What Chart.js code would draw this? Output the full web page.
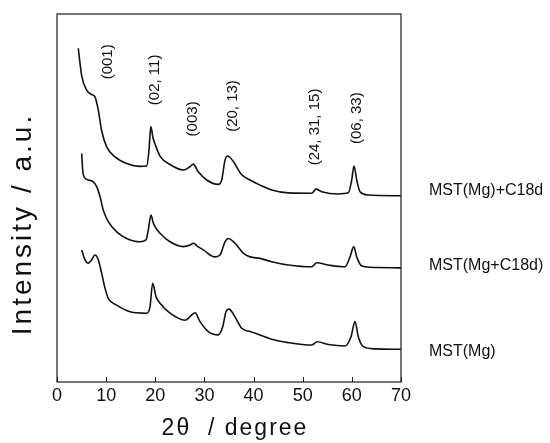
<!DOCTYPE html>
<html><head><meta charset="utf-8">
<script src="https://cdn.jsdelivr.net/npm/chart.js@4.4.1/dist/chart.umd.min.js"></script>
<style>html,body{margin:0;padding:0;background:#fff}</style>
</head><body>
<canvas id="c" width="550" height="443"></canvas>
<script>
// ---- data ----
const seriesNames = ['MST(Mg)+C18d', 'MST(Mg+C18d)', 'MST(Mg)'];

const thetaTop = [4.33, 5.03, 6.04, 7.06, 7.73, 8.40, 9.10, 10.11, 11.80, 14.18, 16.89, 18.25, 18.72, 19.09, 19.54, 19.94, 20.96, 23.00, 25.70, 27.07, 27.74, 28.75, 30.46, 32.82, 33.52, 34.19, 34.74, 35.88, 37.59, 39.28, 41.32, 43.69, 47.07, 51.83, 52.71, 53.87, 57.24, 59.28, 59.97, 60.44, 60.99, 61.66, 63.35, 70];
const intensityTop = [90.7, 83.2, 79.3, 78.1, 77.5, 73.9, 68.2, 63.9, 61.2, 59.4, 58.6, 58.7, 63.0, 69.4, 66.3, 64.7, 61.4, 59.1, 57.6, 58.5, 59.2, 57.1, 54.9, 53.7, 54.9, 60.3, 61.4, 59.9, 56.3, 54.9, 53.5, 52.2, 51.4, 51.3, 52.4, 51.7, 51.1, 51.4, 54.9, 58.7, 54.9, 51.7, 50.8, 50.6];

const thetaMid = [5.03, 5.23, 5.70, 6.37, 7.39, 8.08, 8.75, 9.42, 10.44, 12.15, 14.18, 16.89, 18.11, 18.58, 19.13, 19.54, 19.94, 20.96, 23.00, 25.70, 27.07, 27.74, 28.75, 29.77, 32.15, 33.17, 34.19, 34.86, 36.22, 37.91, 39.28, 41.32, 43.69, 47.07, 51.83, 52.85, 55.21, 58.61, 59.63, 60.38, 60.99, 62.01, 64.71, 70];
const intensityMid = [62.1, 57.6, 55.4, 54.9, 54.4, 53.1, 50.4, 46.7, 43.6, 40.8, 39.0, 38.1, 38.6, 41.3, 45.4, 43.5, 42.2, 40.4, 38.1, 36.8, 37.2, 37.7, 36.7, 35.9, 34.0, 34.5, 38.1, 39.0, 37.7, 35.0, 34.0, 33.6, 32.7, 31.8, 31.3, 32.4, 31.8, 31.3, 34.0, 36.8, 34.0, 31.5, 31.1, 31.0];

const thetaBot = [5.03, 5.70, 6.37, 7.06, 7.73, 8.40, 9.10, 9.77, 10.44, 12.15, 14.86, 18.25, 18.93, 19.47, 20.15, 20.96, 23.00, 26.05, 27.41, 28.08, 29.10, 30.79, 32.82, 33.72, 34.39, 35.00, 36.22, 37.59, 39.28, 41.32, 43.69, 47.07, 51.83, 52.97, 55.21, 58.61, 59.83, 60.64, 61.31, 62.33, 64.71, 70];
const intensityBot = [35.9, 33.2, 32.3, 33.2, 34.5, 33.2, 29.5, 25.5, 22.7, 20.9, 19.1, 18.7, 20.5, 26.8, 23.2, 21.4, 18.7, 16.8, 18.2, 18.8, 16.4, 13.7, 12.8, 15.0, 19.1, 19.8, 17.7, 14.6, 13.7, 12.8, 11.6, 10.7, 10.05, 10.95, 10.2, 9.8, 12.3, 16.4, 12.3, 9.6, 9.0, 8.9];

const peakLabels = ['(001)', '(02, 11)', '(003)', '(20, 13)', '(24, 31, 15)', '(06, 33)'];
const peakLabelTheta = [10.4, 19.9, 27.7, 35.8, 52.5, 61.0];
const peakLabelLevel = [87.0, 82.1, 71.5, 75.0, 69.3, 71.7];

const xTickValues = [0, 10, 20, 30, 40, 50, 60, 70];
const xTitle = '2\u03b8  / degree';
const yTitle = 'Intensity / a.u.';

// ---- build datasets ----
const toPts = (xs, ys) => xs.map((t, i) => ({x: t, y: ys[i]}));
const seriesData = [toPts(thetaTop, intensityTop), toPts(thetaMid, intensityMid), toPts(thetaBot, intensityBot)];

const FONT = '"Liberation Sans", Arial, Helvetica, sans-serif';

const decor = {
  id: 'decor',
  afterDraw(chart) {
    const {ctx, chartArea: a, scales: {x, y}} = chart;
    ctx.save();
    // frame
    ctx.strokeStyle = '#1c1c1c';
    ctx.lineWidth = 1.2;
    ctx.strokeRect(a.left, a.top, a.right - a.left, a.bottom - a.top);
    // inward tick marks
    ctx.lineWidth = 1;
    xTickValues.forEach(v => {
      const px = Math.round(x.getPixelForValue(v)) + 0.5;
      ctx.beginPath(); ctx.moveTo(px, a.bottom); ctx.lineTo(px, a.bottom - 5); ctx.stroke();
    });
    ctx.fillStyle = '#111';
    // peak (hkl) labels, rotated
    ctx.font = '15px ' + FONT;
    ctx.textAlign = 'center'; ctx.textBaseline = 'middle';
    peakLabels.forEach((s, i) => {
      ctx.save();
      ctx.translate(x.getPixelForValue(peakLabelTheta[i]), y.getPixelForValue(peakLabelLevel[i]));
      ctx.rotate(-Math.PI / 2);
      ctx.fillText(s, 0, 0);
      ctx.restore();
    });
    // series labels at curve ends
    ctx.font = '16px ' + FONT;
    ctx.textAlign = 'left';
    const offs = [-5, -2, 2];
    seriesData.forEach((d, i) => {
      const last = d[d.length - 1];
      ctx.fillText(seriesNames[i], a.right + 28, y.getPixelForValue(last.y) + offs[i]);
    });
    // axis titles
    ctx.textAlign = 'center';
    ctx.font = '28px ' + FONT;
    if ('letterSpacing' in ctx) ctx.letterSpacing = '3px';
    ctx.save();
    ctx.translate(a.left - 34, a.bottom - 158);
    ctx.rotate(-Math.PI / 2);
    ctx.fillText(yTitle, 0, 0);
    ctx.restore();
    ctx.font = '23px ' + FONT;
    if ('letterSpacing' in ctx) ctx.letterSpacing = '2px';
    ctx.fillText(xTitle, (a.left + a.right) / 2 + 6, a.bottom + 47);
    if ('letterSpacing' in ctx) ctx.letterSpacing = '0px';
    ctx.restore();
  }
};

new Chart(document.getElementById('c'), {
  type: 'line',
  data: {
    datasets: seriesData.map((d, i) => ({
      label: seriesNames[i],
      data: d,
      borderColor: '#111',
      borderWidth: 1.6,
      pointRadius: 0,
      fill: false,
      cubicInterpolationMode: 'monotone'
    }))
  },
  options: {
    responsive: false,
    animation: false,
    devicePixelRatio: 1,
    layout: {padding: {left: 57, right: 149, top: 14, bottom: 0}},
    plugins: {legend: {display: false}, tooltip: {enabled: false}},
    scales: {
      x: {
        type: 'linear', min: 0, max: 70,
        afterBuildTicks: s => { s.ticks = xTickValues.map(v => ({value: v})); },
        ticks: {color: '#111', font: {family: FONT, size: 18}, padding: 3, maxRotation: 0},
        grid: {display: false, drawTicks: false},
        border: {display: false},
        afterFit: s => { s.height = 61; }
      },
      y: {display: false, min: 0, max: 100}
    }
  },
  plugins: [decor]
});
</script>
</body></html>
